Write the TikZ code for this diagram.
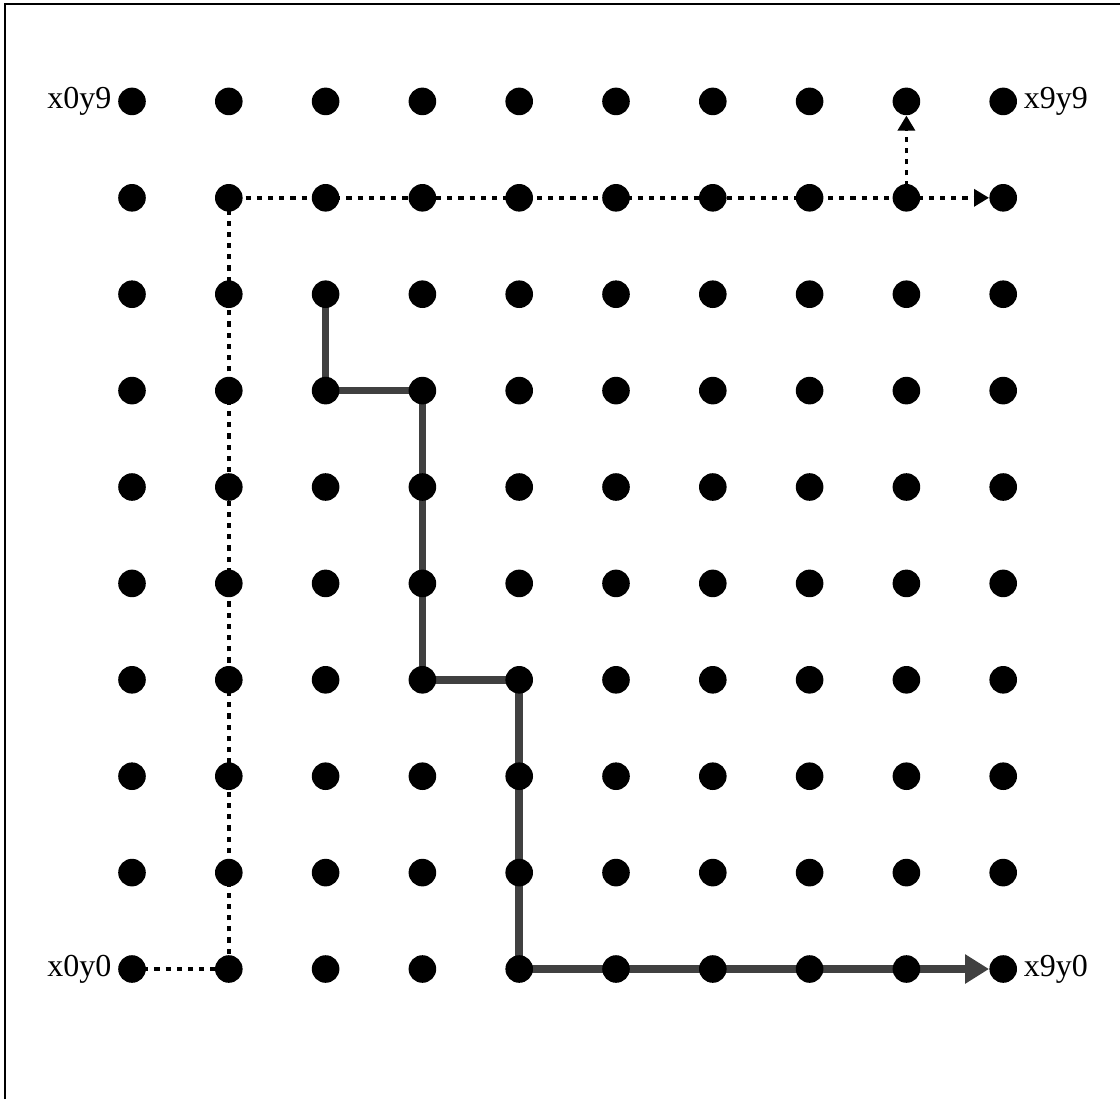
\documentclass[tikz,border=0pt]{standalone}
\usepackage{fontspec}
\setmainfont{Liberation Serif}
\usetikzlibrary{arrows.meta,backgrounds}
\begin{document}
\begin{tikzpicture}[x=0.5pt,y=-0.5pt,
  dot/.style={circle,fill=black,inner sep=0pt,minimum size=13.8pt},
  lbl/.style={font=\fontsize{16}{19}\selectfont,inner sep=1pt},
  solidpath/.style={line width=3.8pt,draw=black!75,-{Triangle[length=12pt,width=14pt,fill=black!75]}},
  dotpath/.style={line width=1.7pt,dash pattern=on 2.6pt off 3pt},
  dotarrow/.style={dotpath,-{Triangle[length=7.5pt,width=8.5pt]}},
  frame/.style={line width=1.3pt}]
\useasboundingbox (0,0) rectangle (1120,1099);
\draw[frame] (5,1099) -- (5,4) -- (1120,4);
\foreach \i in {0,...,9}{
  \foreach \j in {0,...,9}{
    \node[dot] (x\i y\j) at ({132+96.8*\i},{969-96.4*\j}) {};
  }
}
\node[lbl,anchor=east] (l09) at ([xshift=-2pt]x0y9.west) {x0y9};
\node[lbl,anchor=west] (l99) at ([xshift=2pt]x9y9.east) {x9y9};
\node[lbl,anchor=east] (l00) at ([xshift=-2pt]x0y0.west) {x0y0};
\node[lbl,anchor=west] (l90) at ([xshift=2pt]x9y0.east) {x9y0};
\begin{scope}[on background layer]
\draw[solidpath] (x2y7.center) -- (x2y6.center) -- (x3y6.center) -- (x3y3.center)
  -- (x4y3.center) -- (x4y0.center) -- (x9y0);
\draw[dotarrow] (x0y0.center) -- (x1y0.center) -- (x1y8.center) -- (x9y8);
\draw[dotarrow] (x8y8.center) -- (x8y9);
\end{scope}
\end{tikzpicture}
\end{document}
